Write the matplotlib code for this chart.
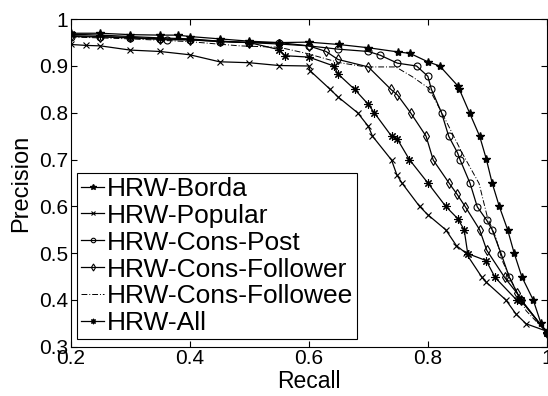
import matplotlib
matplotlib.use("Agg")
import matplotlib.pyplot as plt

plt.rcParams['font.family'] = ['Liberation Sans', 'DejaVu Sans']

borda_x = [0.2, 0.25, 0.3, 0.35, 0.38, 0.4, 0.45, 0.5, 0.55, 0.6, 0.65, 0.7, 0.75, 0.77, 0.8, 0.82,
           0.85, 0.853, 0.87, 0.887, 0.898, 0.908, 0.92, 0.934, 0.945, 0.958, 0.977, 0.99, 1.0]
borda_y = [0.970, 0.970, 0.967, 0.966, 0.966, 0.963, 0.958, 0.953, 0.950, 0.951, 0.946, 0.939, 0.930, 0.927,
           0.909, 0.900, 0.858, 0.850, 0.800, 0.750, 0.702, 0.650, 0.600, 0.550, 0.500, 0.449, 0.400, 0.350, 0.330]

popular_x = [0.2, 0.226, 0.25, 0.3, 0.35, 0.4, 0.45, 0.5, 0.55, 0.6, 0.602, 0.636, 0.649, 0.682, 0.70, 0.707,
             0.739, 0.748, 0.757, 0.786, 0.80, 0.830, 0.848, 0.864, 0.891, 0.898, 0.931, 0.948, 0.965, 1.0]
popular_y = [0.946, 0.944, 0.943, 0.934, 0.931, 0.924, 0.909, 0.907, 0.901, 0.900, 0.890, 0.850, 0.834, 0.800,
             0.771, 0.750, 0.699, 0.667, 0.649, 0.600, 0.582, 0.550, 0.516, 0.500, 0.448, 0.438, 0.400, 0.370,
             0.349, 0.333]

post_x = [0.2, 0.25, 0.3, 0.35, 0.361, 0.4, 0.45, 0.5, 0.55, 0.6, 0.649, 0.70, 0.72, 0.749, 0.781, 0.80, 0.806,
          0.823, 0.835, 0.85, 0.854, 0.871, 0.883, 0.899, 0.908, 0.923, 0.937, 0.956, 1.0]
post_y = [0.963, 0.962, 0.960, 0.957, 0.956, 0.956, 0.952, 0.950, 0.950, 0.943, 0.936, 0.931, 0.923, 0.906,
          0.900, 0.878, 0.850, 0.800, 0.750, 0.714, 0.700, 0.649, 0.599, 0.570, 0.550, 0.499, 0.448, 0.400, 0.330]

follower_x = [0.2, 0.25, 0.3, 0.35, 0.4, 0.45, 0.5, 0.55, 0.6, 0.629, 0.649, 0.70, 0.738, 0.749, 0.771, 0.797,
              0.809, 0.836, 0.849, 0.863, 0.887, 0.899, 0.929, 0.950, 0.956, 1.0]
follower_y = [0.965, 0.963, 0.961, 0.958, 0.956, 0.953, 0.950, 0.947, 0.943, 0.931, 0.914, 0.898, 0.850, 0.838,
              0.800, 0.750, 0.699, 0.649, 0.626, 0.599, 0.550, 0.506, 0.448, 0.414, 0.400, 0.330]

followee_x = [0.2, 0.3, 0.4, 0.484, 0.55, 0.596, 0.652, 0.696, 0.746, 0.774, 0.802, 0.83, 0.858, 0.886, 0.90,
              0.914, 0.925, 0.948, 0.965, 1.0]
followee_y = [0.962, 0.958, 0.952, 0.943, 0.940, 0.927, 0.907, 0.898, 0.898, 0.877, 0.852, 0.784, 0.713, 0.649,
              0.577, 0.534, 0.484, 0.420, 0.377, 0.330]

all_x = [0.2, 0.25, 0.3, 0.35, 0.4, 0.45, 0.5, 0.55, 0.56, 0.6, 0.642, 0.649, 0.677, 0.70, 0.71, 0.739, 0.749,
         0.769, 0.80, 0.83, 0.85, 0.861, 0.867, 0.898, 0.913, 0.949, 0.957, 1.0]
all_y = [0.968, 0.966, 0.963, 0.960, 0.958, 0.953, 0.950, 0.935, 0.922, 0.919, 0.900, 0.883, 0.850, 0.818, 0.800,
         0.750, 0.743, 0.700, 0.650, 0.600, 0.574, 0.550, 0.499, 0.484, 0.448, 0.400, 0.400, 0.330]

x_ticks = [0.2, 0.4, 0.6, 0.8, 1.0]
x_tick_labels = ['0.2', '0.4', '0.6', '0.8', '1']
y_ticks = [0.3, 0.4, 0.5, 0.6, 0.7, 0.8, 0.9, 1.0]
y_tick_labels = ['0.3', '0.4', '0.5', '0.6', '0.7', '0.8', '0.9', '1']

fig = plt.figure(figsize=(5.48, 3.96), dpi=100)
ax = fig.add_axes([0.129, 0.1245, 0.869, 0.827])

lw = 0.9
ax.plot(borda_x, borda_y, color='black', lw=lw, marker='*', ms=6, mfc='black', mec='black', label='HRW-Borda')
ax.plot(popular_x, popular_y, color='black', lw=lw, marker='x', ms=5, mew=0.8, label='HRW-Popular')
ax.plot(post_x, post_y, color='black', lw=lw, marker='o', ms=5, mfc='none', mec='black', mew=0.8,
        label='HRW-Cons-Post')
ax.plot(follower_x, follower_y, color='black', lw=lw, marker='d', ms=5.5, mfc='none', mec='black', mew=0.8,
        label='HRW-Cons-Follower')
ax.plot(followee_x, followee_y, color='black', lw=0.7, ls=(0, (6, 2, 1, 2)), label='HRW-Cons-Followee')
ax.plot(all_x, all_y, color='black', lw=lw, marker=(8, 2, 0), ms=6, mew=0.8, label='HRW-All')

ax.set_xlim(0.2, 1.0)
ax.set_ylim(0.3, 1.0)
ax.set_xticks(x_ticks)
ax.set_xticklabels(x_tick_labels)
ax.set_yticks(y_ticks)
ax.set_yticklabels(y_tick_labels)
ax.tick_params(direction='in', top=True, right=True, length=4, width=0.8, labelsize=15, pad=2)
for s in ax.spines.values():
    s.set_linewidth(0.8)

ax.set_xlabel('Recall', fontsize=16.5, labelpad=1)
ax.set_ylabel('Precision', fontsize=17, labelpad=5)

leg = ax.legend(loc='lower left', bbox_to_anchor=(0.014, 0.0226), borderaxespad=0, fontsize=19,
                fancybox=False, edgecolor='black', framealpha=1, handlelength=0.85, handletextpad=0.1,
                labelspacing=0.11, borderpad=0.15, markerscale=0.65)
leg.get_frame().set_linewidth(0.8)

fig.savefig('out.png', dpi=100)
